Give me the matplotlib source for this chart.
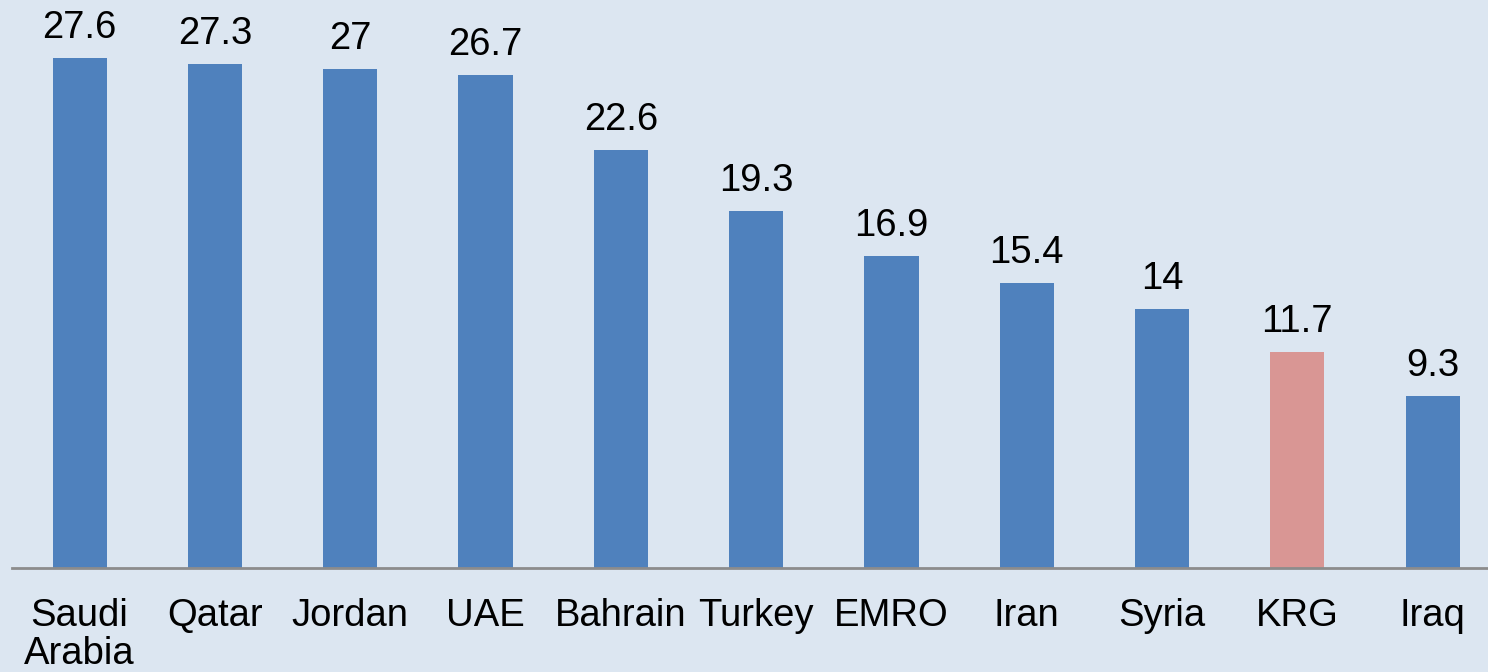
import matplotlib.pyplot as plt

plt.rcParams['font.family'] = ['Liberation Sans', 'DejaVu Sans']

regions = ['Saudi\nArabia', 'Qatar', 'Jordan', 'UAE', 'Bahrain', 'Turkey',
           'EMRO', 'Iran', 'Syria', 'KRG', 'Iraq']
values = [27.6, 27.3, 27, 26.7, 22.6, 19.3, 16.9, 15.4, 14, 11.7, 9.3]
highlight = 'KRG'

bg = '#DCE6F1'
colors = ['#D99694' if r == highlight else '#4F81BD' for r in regions]

fig = plt.figure(figsize=(14.88, 6.72), dpi=100, facecolor=bg)
ax = fig.add_axes([12 / 1488, 0.1548, 1476 / 1488, 0.8452], facecolor=bg)

x = list(range(len(regions)))
bars = ax.bar(x, values, width=0.4, color=colors, zorder=2)

# value labels above each bar
for xi, v in zip(x, values):
    ax.text(xi, v + 1.08, f'{v:g}', ha='center', va='baseline', fontsize=27.5)

ax.set_xlim(-0.5, 10.409)
ax.set_ylim(0, 30.74)
ax.set_xticks(x)
ax.set_xticklabels(regions, fontsize=27.5, linespacing=1.08)
ax.tick_params(axis='x', length=0, pad=21.5)
ax.set_yticks([])
for s in ['top', 'right', 'left']:
    ax.spines[s].set_visible(False)
ax.spines['bottom'].set_color('#8C8C8C')
ax.spines['bottom'].set_linewidth(2)

fig.savefig('out.png', dpi=100, facecolor=bg)
